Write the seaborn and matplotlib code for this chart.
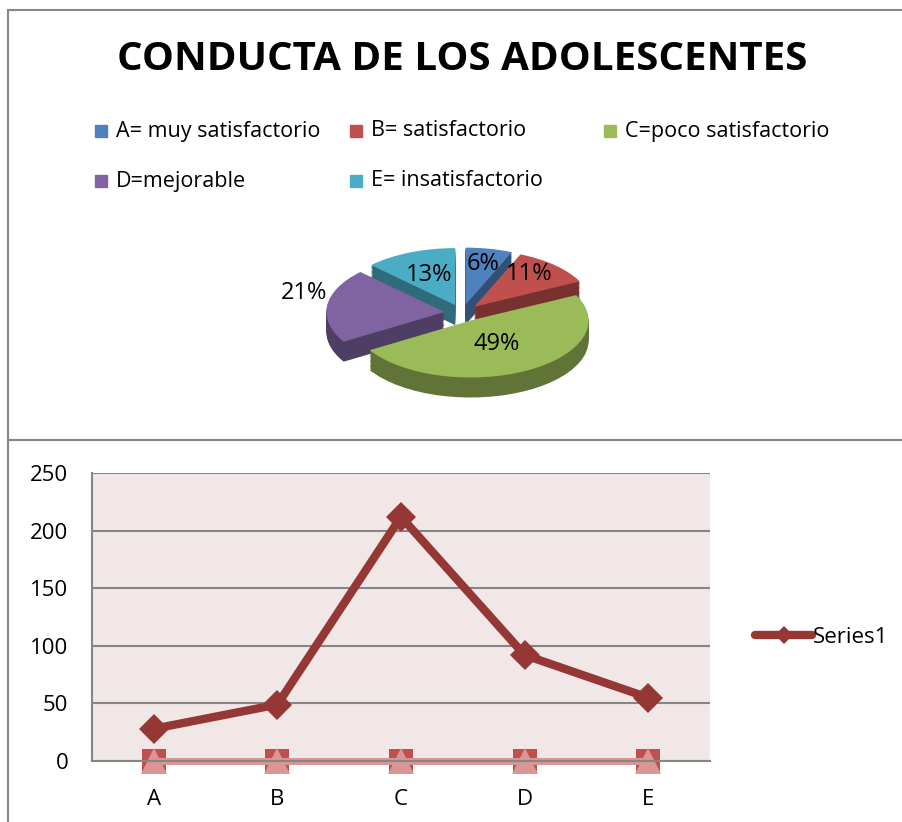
import numpy as np
import pandas as pd
import matplotlib
matplotlib.use("Agg")
import matplotlib.pyplot as plt
from matplotlib.patches import Rectangle
import seaborn as sns

# data
categories = ["A", "B", "C", "D", "E"]
series1 = [28, 49, 212, 92, 55]
series2 = [0, 0, 0, 0, 0]
series3 = [0, 0, 0, 0, 0]
legend_labels = ["A= muy satisfactorio", "B= satisfactorio", "C=poco satisfactorio",
                 "D=mejorable", "E= insatisfactorio"]
pie_colors = ["#4F81BD", "#C0504D", "#9BBB59", "#8064A2", "#4BACC6"]
title = "CONDUCTA DE LOS ADOLESCENTES"

sns.set_style("white")
plt.rcParams["font.family"] = ["Open Sans", "DejaVu Sans"]
plt.rcParams["text.color"] = "black"
plt.rcParams["xtick.color"] = "black"
plt.rcParams["ytick.color"] = "black"

W, H = 902, 822
fig = plt.figure(figsize=(W / 100, H / 100), dpi=100)


def box(x0, y0, x1, y1):
    # pixel box -> figure fraction
    return [x0 / W, 1 - y1 / H, (x1 - x0) / W, (y1 - y0) / H]


# panel borders
for (x0, y0, x1, y1) in [(8, 10, 905, 440), (8, 440, 905, 830)]:
    fig.patches.append(Rectangle((x0 / W, 1 - y1 / H), (x1 - x0) / W, (y1 - y0) / H,
                                 transform=fig.transFigure, fill=False,
                                 edgecolor="#868686", linewidth=1.5))

fig.text(462 / W, 1 - 60 / H, title, ha="center", va="center",
         fontsize=29, fontweight="bold", color="black")

# legend of the pie, Excel-like fixed grid
leg_pos = [(95, 131), (350, 131), (604, 131), (95, 181), (350, 181)]
for (px, py), lab, col in zip(leg_pos, legend_labels, pie_colors):
    fig.patches.append(Rectangle((px / W, 1 - (py + 6) / H), 12 / W, 12 / H,
                                 transform=fig.transFigure, color=col))
    fig.text((px + 21) / W, 1 - py / H, lab, ha="left", va="center", fontsize=15.5)

# ---- 3d-ish exploded pie ----
cx, cy, rx, ry = 462, 313, 118, 57
ax0, ay0, ax1, ay1 = 270, 210, 650, 430
pax = fig.add_axes(box(ax0, ay0, ax1, ay1))
explode = [0.15] * 5
depth = 20 / ry
nlay = 16
side_cols = [tuple(c * 0.62 for c in matplotlib.colors.to_rgb(pc)) for pc in pie_colors]
for k in range(nlay, 0, -1):
    pax.pie(series1, colors=side_cols, startangle=90, counterclock=False,
            explode=explode, center=(0, -depth * k / nlay), radius=1,
            wedgeprops=dict(linewidth=0))
wedges, _ = pax.pie(series1, colors=pie_colors, startangle=90, counterclock=False,
                    explode=explode, radius=1, wedgeprops=dict(linewidth=0))
pax.set_aspect("auto")
pax.set_xlim(-(cx - ax0) / rx, (ax1 - cx) / rx)
pax.set_ylim(-(ay1 - cy) / ry, (cy - ay0) / ry)
pax.axis("off")

total = sum(series1)
label_r = [0.72, 0.68, 0.45, 1.2, 0.58]
label_dy = [0.0, 0.08, -0.02, 0.2, 0.0]
for w, v, r, dy in zip(wedges, series1, label_r, label_dy):
    mid = np.deg2rad((w.theta1 + w.theta2) / 2)
    ox, oy = w.center
    pax.text(ox + r * np.cos(mid), oy + r * np.sin(mid) + dy, f"{100 * v / total:.0f}%",
             ha="center", va="center", fontsize=17)

# ---- line chart ----
lax = fig.add_axes(box(92, 473, 710, 761))
df = pd.DataFrame({"cat": categories, "s1": series1, "s2": series2, "s3": series3})
df["x"] = np.arange(len(categories))
sns.lineplot(data=df, x="x", y="s2", ax=lax, color="#C0504D", linewidth=0,
             marker="s", markersize=17, markeredgewidth=0, label="_s2")
sns.lineplot(data=df, x="x", y="s3", ax=lax, color="#D99694", linewidth=5,
             marker="^", markersize=19, markeredgewidth=0, label="_s3")
sns.lineplot(data=df, x="x", y="s1", ax=lax, color="#953735", linewidth=6,
             marker="D", markersize=15, markeredgewidth=0, label="Series1")
for ln in lax.lines:
    ln.set_clip_on(False)

lax.set_facecolor("#F2E7E7")
lax.set_xlim(-0.5, len(categories) - 0.5)
lax.set_ylim(0, 250)
lax.set_yticks(range(0, 251, 50))
lax.set_xticks(df["x"])
lax.set_xticklabels(categories)
lax.set_xticks(np.arange(-0.5, len(categories)), minor=True)
lax.tick_params(axis="x", which="major", length=0, pad=20, labelsize=16)
lax.tick_params(axis="x", which="minor", length=7, color="#868686", width=1.2)
lax.tick_params(axis="y", length=7, color="#868686", labelcolor="black", width=1.2,
                pad=10, labelsize=16)
lax.grid(axis="y", color="#868686", linewidth=1.5)
lax.set_axisbelow(True)
for s in ["top", "right"]:
    lax.spines[s].set_visible(False)
for s in ["left", "bottom"]:
    lax.spines[s].set_color("#868686")
    lax.spines[s].set_linewidth(1.5)
lax.set_xlabel("")
lax.set_ylabel("")
lax.legend(loc="center left", bbox_to_anchor=(1.04, 0.43), frameon=False,
           fontsize=16, handlelength=2.6, handletextpad=0.0, markerscale=0.6)

fig.savefig("out.png", dpi=100)
